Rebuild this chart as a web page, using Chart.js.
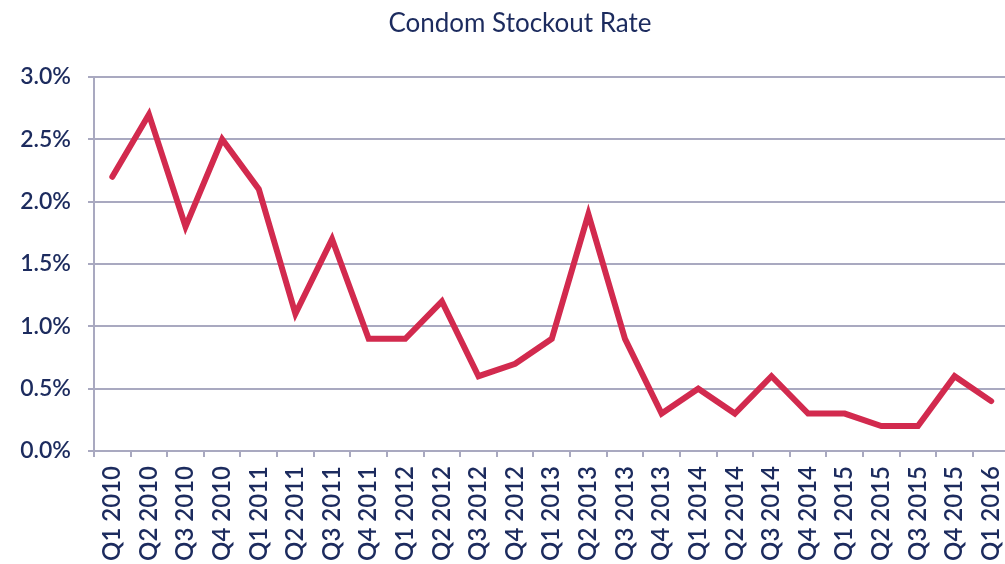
<!DOCTYPE html>
<html>
<head>
<meta charset="utf-8">
<script src="https://cdn.jsdelivr.net/npm/chart.js@4"></script>
<style>
  html, body { margin: 0; padding: 0; background: #fff; overflow: hidden; }
  #wrap { width: 1029px; height: 564px; position: relative; }
  #title {
    position: absolute; left: 0; top: 6px; width: 1040px; text-align: center;
    font-family: Lato, "Open Sans", sans-serif; font-size: 26px; font-weight: normal;
    color: #1c2b5e;
  }
</style>
</head>
<body>
<div id="wrap"><canvas id="myChart"></canvas></div>
<div id="title">Condom Stockout Rate</div>
<script>
// data
var quarters = ['Q1 2010', 'Q2 2010', 'Q3 2010', 'Q4 2010',
                'Q1 2011', 'Q2 2011', 'Q3 2011', 'Q4 2011',
                'Q1 2012', 'Q2 2012', 'Q3 2012', 'Q4 2012',
                'Q1 2013', 'Q2 2013', 'Q3 2013', 'Q4 2013',
                'Q1 2014', 'Q2 2014', 'Q3 2014', 'Q4 2014',
                'Q1 2015', 'Q2 2015', 'Q3 2015', 'Q4 2015',
                'Q1 2016'];
var stockoutRate = [2.2, 2.7, 1.8, 2.5,
                    2.1, 1.1, 1.7, 0.9,
                    0.9, 1.2, 0.6, 0.7,
                    0.9, 1.9, 0.9, 0.3,
                    0.5, 0.3, 0.6, 0.3,
                    0.3, 0.2, 0.2, 0.6,
                    0.4];
var yTicks = [0, 0.5, 1.0, 1.5, 2.0, 2.5, 3.0];

var navy = '#1c2b5e';
var gridColor = '#a9a9c0';
var fontFam = 'Lato, "Open Sans", sans-serif';

new Chart(document.getElementById('myChart').getContext('2d'), {
    type: 'line',
    data: {
        labels: quarters,
        datasets: [{
            label: 'Condom Stockout Rate',
            data: stockoutRate,
            borderColor: '#d22a4e',
            backgroundColor: '#d22a4e',
            borderWidth: 6,
            pointRadius: 0,
            tension: 0,
            borderCapStyle: 'round',
            borderJoinStyle: 'miter'
        }]
    },
    options: {
        responsive: true,
        maintainAspectRatio: false,
        animation: false,
        layout: { padding: { left: 0, right: 0, top: 77, bottom: 0 } },
        plugins: {
            legend: { display: false },
            tooltip: { enabled: false },
            title: { display: false }
        },
        scales: {
            x: {
                offset: true,
                grid: {
                    offset: true,
                    drawOnChartArea: false,
                    drawTicks: true,
                    tickLength: 6,
                    color: gridColor,
                    lineWidth: 2
                },
                border: { color: gridColor, width: 2 },
                ticks: {
                    color: navy,
                    font: { family: fontFam, size: 24, weight: 600 },
                    maxRotation: 90,
                    minRotation: 90,
                    autoSkip: false,
                    padding: 9
                },
                afterFit: function (scale) { scale.height = 113; }
            },
            y: {
                min: 0,
                max: 3,
                afterBuildTicks: function (scale) {
                    scale.ticks = yTicks.map(function (v) { return { value: v }; });
                },
                grid: {
                    color: gridColor,
                    lineWidth: 2,
                    tickLength: 6
                },
                border: { color: gridColor, width: 2 },
                ticks: {
                    color: navy,
                    font: { family: fontFam, size: 23, weight: 600 },
                    padding: 17,
                    callback: function (v) { return v.toFixed(1) + '%'; }
                },
                afterFit: function (scale) { scale.width = 94; }
            }
        }
    }
});
</script>
</body>
</html>
